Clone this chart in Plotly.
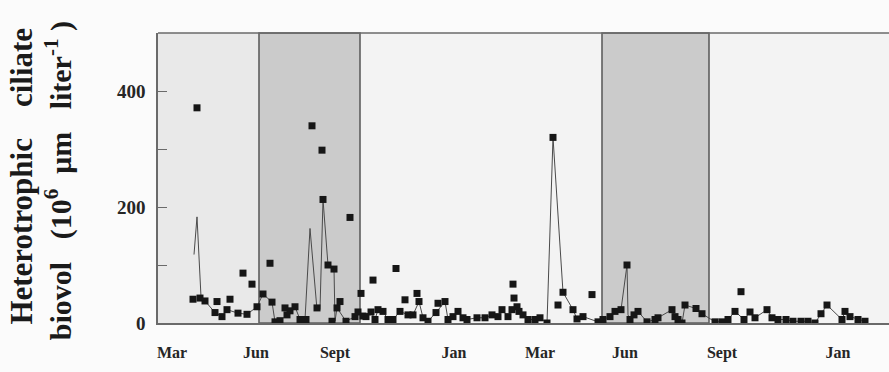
import pandas as pd
import plotly.graph_objects as go

# Sampling origin: days are counted from 1 March 1992
ORIGIN = pd.Timestamp("1992-03-01")

# Discrete samples (squares): day since origin, biovolume (10^6 um^3 per liter)
sample_day = [35, 39, 42, 47, 57, 59, 64, 69, 72, 80, 85, 89, 94, 99, 105, 112, 114,
              117, 122, 127, 129, 132, 137, 142, 148, 154, 159, 164, 165, 170, 174,
              176, 179, 182, 188, 192, 197, 200, 203, 205, 208, 213, 215, 217, 220,
              225, 230, 235, 238, 242, 247, 250, 255, 259, 261, 265, 270, 278, 280,
              287, 290, 295, 300, 305, 309, 319, 327, 334, 340, 344, 350, 354, 355,
              356, 359, 361, 365, 370, 377, 382, 389, 395, 400, 405, 415, 419, 425,
              434, 440, 445, 452, 457, 463, 469, 472, 476, 480, 489, 497, 500, 514,
              517, 520, 524, 527, 538, 544, 557, 564, 570, 577, 583, 586, 592, 597,
              609, 614, 620, 628, 635, 643, 650, 657, 663, 669, 684, 687, 692, 700, 707]
sample_biovol = [41, 371, 43, 38, 18, 37, 11, 23, 41, 17, 86, 15, 67, 28, 50, 103, 36,
                 2, 4, 26, 14, 21, 28, 6, 6, 340, 26, 298, 213, 100, 3,
                 93, 26, 37, 3, 182, 11, 19, 51, 12, 11, 19, 74, 6, 23,
                 20, 6, 6, 94, 20, 40, 14, 14, 51, 37, 9, 3, 18, 34,
                 37, 6, 11, 20, 9, 6, 9, 9, 14, 11, 23, 11, 23, 67,
                 43, 28, 20, 14, 6, 6, 9, 0, 320, 31, 53, 23, 7, 11,
                 49, 2, 6, 11, 20, 23, 100, 6, 14, 20, 2, 6, 9, 23,
                 11, 6, 0, 31, 25, 16, 2, 2, 6, 20, 54, 6, 19, 9,
                 23, 9, 6, 6, 3, 3, 3, 0, 16, 31, 6, 20, 11, 6, 3]

# Continuous record (thin line): day since origin, biovolume
line_day = [36, 39, 43, 47, 57, 64, 69, 80, 89, 99, 105, 114, 117, 122, 129, 137, 142,
            147, 152, 159, 162, 165, 170, 176, 177, 179, 188, 197, 200, 205, 213, 217,
            220, 225, 230, 235, 242, 250, 255, 261, 265, 270, 278, 287, 290, 295, 300,
            305, 309, 319, 327, 334, 340, 344, 350, 354, 359, 365, 370, 377, 382, 389,
            395, 405, 415, 419, 425, 440, 445, 452, 457, 463, 469, 470, 472, 476, 480,
            489, 497, 500, 514, 517, 520, 524, 527, 538, 544, 557, 564, 570, 577, 586,
            592, 597, 609, 614, 620, 628, 635, 643, 650, 657, 663, 669, 684, 687, 692,
            700, 707]
line_biovol = [118, 183, 45, 38, 18, 11, 23, 17, 15, 28, 50, 36, 2, 4, 14, 28, 6,
               6, 163, 23, 23, 213, 100, 93, 3, 26, 3, 11, 19, 12, 19, 6,
               23, 20, 6, 6, 20, 14, 14, 37, 9, 3, 18, 37, 6, 11, 20,
               9, 6, 9, 9, 14, 11, 23, 11, 23, 28, 14, 6, 6, 9, 0,
               320, 53, 23, 7, 11, 2, 6, 11, 20, 23, 100, 14, 6, 14, 20,
               2, 6, 9, 23, 11, 6, 0, 31, 25, 16, 2, 2, 6, 20, 6,
               19, 9, 23, 9, 6, 6, 3, 3, 3, 0, 16, 31, 6, 20, 11,
               6, 3]

# Month labels along the time axis
tick_day = [14, 98, 177, 296, 382, 467, 564, 680]
tick_text = ["Mar", "Jun", "Sept", "Jan", "Mar", "Jun", "Sept", "Jan"]

# Shaded seasonal periods (day since origin)
spring_span = (0, 101)
summer_spans = [(101, 202), (444, 551)]
axis_end_day = 731

y_ticks = [0, 200, 400]


def to_date(days):
    return ORIGIN + pd.to_timedelta(days, unit="D")


fig = go.Figure()

fig.add_trace(go.Scatter(
    x=to_date(line_day), y=line_biovol, mode="lines",
    line=dict(color="#4a4a4a", width=1), hoverinfo="skip", showlegend=False,
))
fig.add_trace(go.Scatter(
    x=to_date(sample_day), y=sample_biovol, mode="markers",
    marker=dict(symbol="square", size=7, color="#161616"),
    showlegend=False,
))

shapes = [
    dict(type="rect", xref="x", yref="paper", layer="below",
         x0=to_date(spring_span[0]), x1=to_date(spring_span[1]), y0=0, y1=1,
         fillcolor="#e9e9e9", line=dict(width=0)),
]
for a, b in summer_spans:
    shapes.append(dict(type="rect", xref="x", yref="paper", layer="below",
                       x0=to_date(a), x1=to_date(b), y0=0, y1=1,
                       fillcolor="#cbcbcb", line=dict(color="#5e5e5e", width=1.6)))
# top frame line
shapes.append(dict(type="line", xref="paper", yref="paper", x0=0, x1=1, y0=1, y1=1,
                   line=dict(color="#6a6a6a", width=1.6)))
fig.update_layout(shapes=shapes)

serif = "Liberation Serif"
fig.update_xaxes(
    type="date", range=[to_date(0), to_date(axis_end_day)],
    showline=True, linecolor="#6a6a6a", linewidth=1.6, showgrid=False, zeroline=False,
    tickvals=to_date(tick_day), ticktext=tick_text, ticks="",
    ticklabelstandoff=14,
    tickfont=dict(family=serif, size=16, color="#262626", weight="bold"),
)
fig.update_yaxes(
    range=[0, 500], showline=True, linecolor="#6a6a6a", linewidth=1.6,
    showgrid=False, zeroline=False,
    tickvals=y_ticks, ticks="inside", ticklen=9,
    tickcolor="#6a6a6a", tickwidth=1.2, ticklabelstandoff=7,
    minor=dict(dtick=100, ticks="inside", ticklen=9, tickcolor="#6a6a6a", tickwidth=1.2,
               showgrid=False),
    tickfont=dict(family=serif, size=19, color="#262626", weight="bold"),
)

nb = "\u00a0"
fig.add_annotation(
    text="<b>Heterotrophic" + nb * 4 + "ciliate</b>", textangle=-90,
    xref="paper", yref="paper", x=-0.186, y=0.505, showarrow=False,
    xanchor="center", yanchor="middle",
    font=dict(family=serif, size=31, color="#1a1a1a"),
)
fig.add_annotation(
    text="<b>biovol" + nb * 3 + "(10<sup>6</sup>" + nb * 2 + "μm" + nb * 3
         + "liter<sup>-1</sup>" + nb + ")</b>",
    textangle=-90,
    xref="paper", yref="paper", x=-0.135, y=0.49, showarrow=False,
    xanchor="center", yanchor="middle",
    font=dict(family=serif, size=30, color="#1a1a1a"),
)

fig.update_layout(
    width=889, height=372,
    margin=dict(l=158, r=0, t=33, b=49),
    paper_bgcolor="#fbfbfb", plot_bgcolor="#f3f3f3",
    showlegend=False,
)

fig.write_html("out.html")
